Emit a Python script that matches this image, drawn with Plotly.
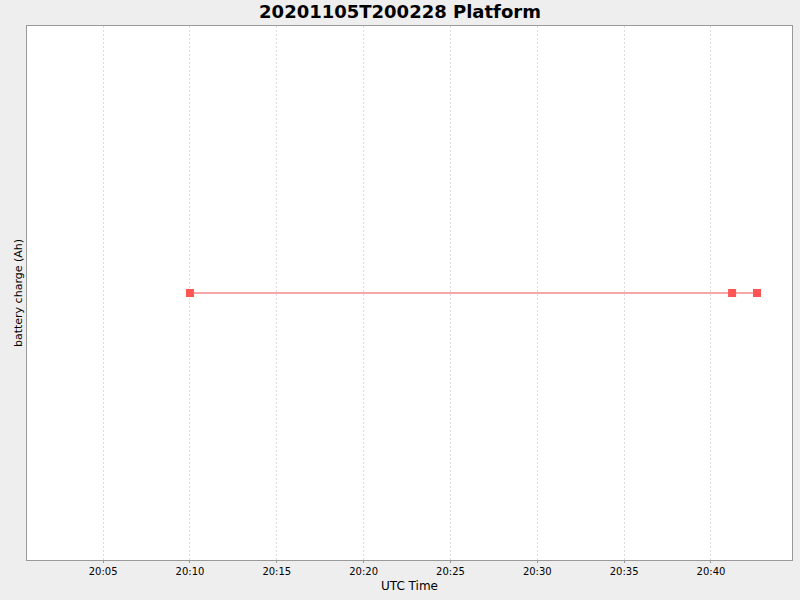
import plotly.graph_objects as go

# battery charge samples (all identical value, no y ticks shown)
times = ["2020-11-05 20:10:00", "2020-11-05 20:41:13", "2020-11-05 20:42:39"]
charge = [0.0, 0.0, 0.0]

tick_vals = ["2020-11-05 20:05", "2020-11-05 20:10", "2020-11-05 20:15", "2020-11-05 20:20",
             "2020-11-05 20:25", "2020-11-05 20:30", "2020-11-05 20:35", "2020-11-05 20:40"]
tick_text = ["20:05", "20:10", "20:15", "20:20", "20:25", "20:30", "20:35", "20:40"]

fig = go.Figure()
fig.add_trace(go.Scatter(x=times, y=charge, mode='lines+markers',
                         line=dict(color='#F05050', width=1.2),
                         marker=dict(symbol='square', size=8, color='#FF5555')))

fig.update_layout(
    width=800, height=600,
    paper_bgcolor='#EEEEEE', plot_bgcolor='white',
    margin=dict(l=27, r=8, t=26, b=40, autoexpand=False),
    showlegend=False,
    title=dict(text='<b>20201105T200228 Platform</b>', x=0.5, xanchor='center',
               y=0.98, yanchor='middle',
               font=dict(family='DejaVu Sans', size=18, color='black')),
    font=dict(family='DejaVu Sans', size=10, color='black'),
)
fig.update_xaxes(type='date', range=["2020-11-05 20:00:37", "2020-11-05 20:44:40"],
                 tickvals=tick_vals, ticktext=tick_text, automargin=False,
                 showgrid=True, gridcolor='#DDDDDD', griddash='2px,2px', gridwidth=1,
                 showline=True, linecolor='#999999', linewidth=1, mirror=True,
                 ticks='outside', ticklen=2, tickcolor='#999999',
                 zeroline=False,
                 title=dict(text='UTC Time', font=dict(size=12), standoff=5))
fig.update_yaxes(range=[-1, 1], showticklabels=False, showgrid=False, zeroline=False,
                 automargin=False,
                 showline=True, linecolor='#999999', linewidth=1, mirror=True,
                 title=dict(text='battery charge (Ah)', font=dict(size=11), standoff=1))

# drop the default page margin so the 800x600 figure fills the window exactly
fig.write_html("out.html", config={'displayModeBar': False},
               post_script="document.body.style.margin='0';")
